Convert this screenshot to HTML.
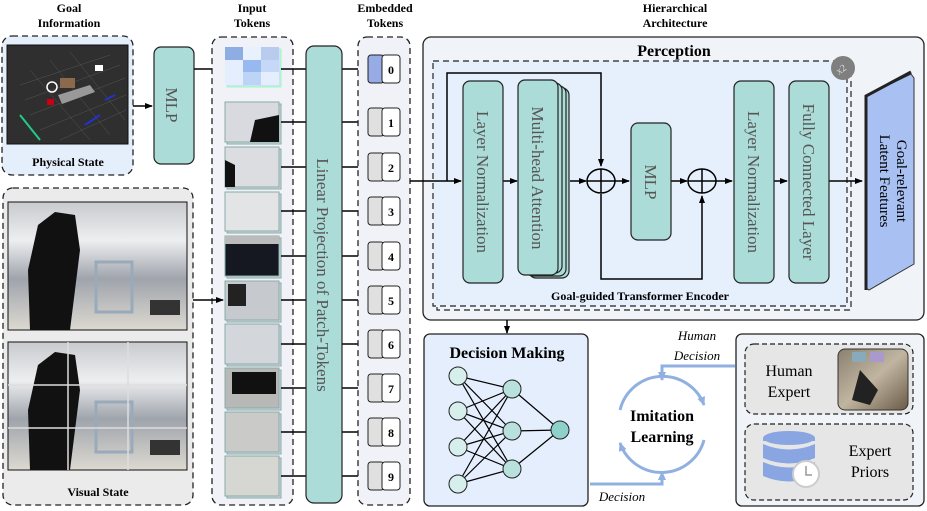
<!DOCTYPE html>
<html><head><meta charset="utf-8"><style>
html,body{margin:0;padding:0;background:#fff;}
svg{display:block;}
svg text{font-family:"Liberation Serif","DejaVu Serif",serif;}
</style></head><body>
<svg width="927" height="511" viewBox="0 0 927 511" xmlns="http://www.w3.org/2000/svg" font-family="Liberation Serif, serif">
<defs>
<marker id="ah" markerWidth="8" markerHeight="8" refX="7" refY="4" orient="auto" markerUnits="userSpaceOnUse"><path d="M0,1 L8,4 L0,7 Z" fill="#000"/></marker>
<marker id="bh" markerWidth="10" markerHeight="10" refX="8" refY="5" orient="auto" markerUnits="userSpaceOnUse"><path d="M0,1 L9,5 L0,9 Z" fill="#8fb0e0"/></marker>
<linearGradient id="room" x1="0" y1="0" x2="0" y2="1"><stop offset="0" stop-color="#c8cace"/><stop offset="0.3" stop-color="#eceef0"/><stop offset="0.6" stop-color="#9fa4ac"/><stop offset="1" stop-color="#dcd9d0"/></linearGradient>
<linearGradient id="ph" x1="0" y1="0" x2="1" y2="1"><stop offset="0" stop-color="#8a8070"/><stop offset="0.5" stop-color="#c0b5a0"/><stop offset="1" stop-color="#6a5a48"/></linearGradient>
</defs>

<g font-weight="bold" font-size="12" text-anchor="middle">
<text x="69" y="12">Goal</text><text x="69" y="27">Information</text>
<text x="252" y="12">Input</text><text x="252" y="27">Tokens</text>
<text x="385" y="12">Embedded</text><text x="385" y="27">Tokens</text>
<text x="675" y="12">Hierarchical</text><text x="675" y="27">Architecture</text>
</g>

<rect x="2" y="36" width="131" height="139" rx="10" fill="#e5eefb" stroke="#222" stroke-width="1.3" stroke-dasharray="6,4"/>
<rect x="7" y="45" width="121" height="99" fill="#2f2f2f" stroke="#111"/>
<g stroke="#555" stroke-width="0.5" fill="none">
<path d="M20,85 L110,55 M25,100 L120,65 M30,115 L125,78 M40,130 L126,95 M60,140 L126,110 M30,70 L90,140 M50,60 L110,135 M70,52 L125,120"/>
</g>
<path d="M20,115 L40,140" stroke="#2c8" stroke-width="2"/>
<path d="M85,125 L100,115 M105,100 L115,95" stroke="#23c" stroke-width="2"/>
<rect x="60" y="78" width="15" height="10" fill="#8a6a4a"/>
<rect x="95" y="65" width="8" height="6" fill="#fff"/>
<path d="M58,95 L90,85 L95,92 L62,104 Z" fill="#999"/>
<circle cx="52" cy="87" r="5" fill="none" stroke="#fff" stroke-width="1.5"/>
<rect x="47" y="99" width="7" height="6" fill="#c01"/>
<text x="68" y="166" font-weight="bold" font-size="12" text-anchor="middle">Physical State</text>

<rect x="3" y="188" width="190" height="317" rx="10" fill="#ebebeb" stroke="#222" stroke-width="1.3" stroke-dasharray="6,4"/>
<g>
<rect x="8" y="202" width="179" height="128" fill="url(#room)" stroke="#111"/>
<path d="M30,330 L28,270 L38,225 L55,212 L75,215 L80,250 L70,330 Z" fill="#111"/>
<rect x="96" y="262" width="36" height="50" fill="none" stroke="#9ab" stroke-width="3"/>
<rect x="150" y="300" width="30" height="15" fill="#333"/>
<rect x="8" y="342" width="179" height="128" fill="url(#room)" stroke="#111"/>
<path d="M30,470 L28,410 L38,365 L55,352 L75,355 L80,390 L70,470 Z" fill="#111"/>
<rect x="96" y="402" width="36" height="50" fill="none" stroke="#9ab" stroke-width="3"/>
<rect x="150" y="440" width="30" height="15" fill="#333"/>
<path d="M68,342 V470 M128,342 V470 M8,385 H187 M8,428 H187" stroke="#ddd" stroke-width="1.5"/>
</g>
<text x="98" y="496" font-weight="bold" font-size="12" text-anchor="middle">Visual State</text>

<line x1="133" y1="106" x2="152" y2="106" stroke="#000" stroke-width="1.6" marker-end="url(#ah)"/>
<rect x="154" y="47" width="40" height="117" rx="7" fill="#acdcd8" stroke="#222" stroke-width="1.2"/>
<text transform="translate(166,105) rotate(90)" font-size="17" fill="#555" text-anchor="middle">MLP</text>
<line x1="194" y1="69" x2="222" y2="69" stroke="#000" stroke-width="1.6" marker-end="url(#ah)"/>

<rect x="212" y="37" width="81" height="468" rx="9" fill="#f0f2f7" stroke="#222" stroke-width="1.3" stroke-dasharray="6,4"/>
<g>
<rect x="227" y="49" width="54" height="38" fill="#cfe0f4" stroke="#9fb"/>
<rect x="225" y="47" width="54" height="38" fill="#e4eefc"/>
<rect x="225" y="47" width="18" height="13" fill="#8eaee3"/><rect x="243" y="47" width="18" height="13" fill="#e8f1fd"/><rect x="261" y="47" width="18" height="13" fill="#b9ccee"/>
<rect x="243" y="60" width="18" height="12" fill="#98b8f0"/><rect x="261" y="60" width="18" height="12" fill="#c5d8f8"/>
<rect x="243" y="72" width="18" height="13" fill="#bcd4f6"/>
</g>
<line x1="281" y1="69" x2="306" y2="69" stroke="#000" stroke-width="1.4"/>
<g stroke="#8aa" stroke-width="1">
<rect x="227" y="104" width="54" height="40" fill="#cfd8d8"/><rect x="225" y="102" width="54" height="40" fill="#d8dadf"/><path d="M250,142 L255,120 L279,115 L279,142 Z" fill="#111" stroke="none"/>
<rect x="227" y="149" width="54" height="40" fill="#cfd8d8"/><rect x="225" y="147" width="54" height="40" fill="#dcdde0"/><path d="M225,160 L235,165 L235,187 L225,187 Z" fill="#111" stroke="none"/>
<rect x="227" y="194" width="54" height="39" fill="#cfd8d8"/><rect x="225" y="192" width="54" height="39" fill="#e2e4e6"/>
<rect x="227" y="238" width="54" height="40" fill="#cfd8d8"/><rect x="225" y="236" width="54" height="40" fill="#151820"/><rect x="225" y="236" width="54" height="8" fill="#bbb" stroke="none"/>
<rect x="227" y="283" width="54" height="39" fill="#cfd8d8"/><rect x="225" y="281" width="54" height="39" fill="#c6c9ce"/><rect x="228" y="284" width="18" height="22" fill="#222" stroke="none"/>
<rect x="227" y="326" width="54" height="40" fill="#cfd8d8"/><rect x="225" y="324" width="54" height="40" fill="#d3d7dc"/>
<rect x="227" y="370" width="54" height="40" fill="#cfd8d8"/><rect x="225" y="368" width="54" height="40" fill="#b8b8b6"/><rect x="232" y="372" width="44" height="22" fill="#111" stroke="none"/>
<rect x="227" y="414" width="54" height="40" fill="#cfd8d8"/><rect x="225" y="412" width="54" height="40" fill="#cacac8"/>
<rect x="227" y="458" width="54" height="40" fill="#cfd8d8"/><rect x="225" y="456" width="54" height="40" fill="#d6d6d2"/>
</g>
<line x1="193" y1="300" x2="223" y2="300" stroke="#000" stroke-width="1.6" marker-end="url(#ah)"/>
<g stroke="#000" stroke-width="1.4">
<path d="M281,122H306M281,167H306M281,211H306M281,256H306M281,300H306M281,344H306M281,388H306M281,432H306M281,476H306"/>
<path d="M342,69H368M342,122H368M342,167H368M342,211H368M342,256H368M342,300H368M342,344H368M342,388H368M342,432H368M342,476H368"/>
</g>

<rect x="306" y="46" width="36" height="457" rx="8" fill="#acdcd8" stroke="#222" stroke-width="1.2"/>
<text transform="translate(317,275) rotate(90)" font-size="17" fill="#555" text-anchor="middle">Linear Projection of Patch-Tokens</text>

<rect x="358" y="37" width="52" height="468" rx="9" fill="#f0f2f7" stroke="#222" stroke-width="1.3" stroke-dasharray="6,4"/>
<g stroke="#222" stroke-width="1" font-weight="bold" font-size="12" text-anchor="middle">
<rect x="368" y="55" width="16" height="28" rx="3" fill="#97abe4"/><rect x="382" y="55" width="18" height="28" rx="3" fill="#fff"/><text x="391" y="74" stroke="none">0</text>
<rect x="368" y="108" width="16" height="28" rx="3" fill="#e0e0e0"/><rect x="382" y="108" width="18" height="28" rx="3" fill="#fff"/><text x="391" y="127" stroke="none">1</text>
<rect x="368" y="153" width="16" height="28" rx="3" fill="#e0e0e0"/><rect x="382" y="153" width="18" height="28" rx="3" fill="#fff"/><text x="391" y="172" stroke="none">2</text>
<rect x="368" y="197" width="16" height="28" rx="3" fill="#e0e0e0"/><rect x="382" y="197" width="18" height="28" rx="3" fill="#fff"/><text x="391" y="216" stroke="none">3</text>
<rect x="368" y="242" width="16" height="28" rx="3" fill="#e0e0e0"/><rect x="382" y="242" width="18" height="28" rx="3" fill="#fff"/><text x="391" y="261" stroke="none">4</text>
<rect x="368" y="286" width="16" height="28" rx="3" fill="#e0e0e0"/><rect x="382" y="286" width="18" height="28" rx="3" fill="#fff"/><text x="391" y="305" stroke="none">5</text>
<rect x="368" y="330" width="16" height="28" rx="3" fill="#e0e0e0"/><rect x="382" y="330" width="18" height="28" rx="3" fill="#fff"/><text x="391" y="349" stroke="none">6</text>
<rect x="368" y="374" width="16" height="28" rx="3" fill="#e0e0e0"/><rect x="382" y="374" width="18" height="28" rx="3" fill="#fff"/><text x="391" y="393" stroke="none">7</text>
<rect x="368" y="418" width="16" height="28" rx="3" fill="#e0e0e0"/><rect x="382" y="418" width="18" height="28" rx="3" fill="#fff"/><text x="391" y="437" stroke="none">8</text>
<rect x="368" y="462" width="16" height="28" rx="3" fill="#e0e0e0"/><rect x="382" y="462" width="18" height="28" rx="3" fill="#fff"/><text x="391" y="481" stroke="none">9</text>
</g>

<rect x="423" y="37" width="501" height="283" rx="8" fill="#f0f3f8" stroke="#222" stroke-width="1.3"/>
<text x="674" y="56" font-weight="bold" font-size="16" text-anchor="middle">Perception</text>
<rect x="437" y="65" width="414" height="245" fill="none" stroke="#222" stroke-width="1.2" stroke-dasharray="6,4"/>
<rect x="433" y="61" width="414" height="245" fill="#e6effc" stroke="#222" stroke-width="1.2" stroke-dasharray="6,4"/>
<circle cx="843" cy="68" r="12" fill="#7f7f7f"/>
<text transform="translate(843,72) rotate(-35)" font-size="10" fill="#ddd" text-anchor="middle">x2</text>
<text x="640" y="300" font-weight="bold" font-size="12" text-anchor="middle">Goal-guided Transformer Encoder</text>

<g stroke="#000" stroke-width="1.5" fill="none">
<line x1="410" y1="181" x2="461" y2="181" marker-end="url(#ah)"/>
<path d="M447,181 V73 H601 V166" marker-end="url(#ah)"/>
<line x1="503" y1="181" x2="517" y2="181" marker-end="url(#ah)"/>
<line x1="570" y1="181" x2="586" y2="181" marker-end="url(#ah)"/>
<line x1="615" y1="181" x2="629" y2="181" marker-end="url(#ah)"/>
<line x1="670" y1="181" x2="687" y2="181" marker-end="url(#ah)"/>
<path d="M601,194 V279 H702 V196" marker-end="url(#ah)"/>
<line x1="716" y1="181" x2="732" y2="181" marker-end="url(#ah)"/>
<line x1="774" y1="181" x2="787" y2="181" marker-end="url(#ah)"/>
<line x1="828" y1="181" x2="862" y2="181" marker-end="url(#ah)"/>
<ellipse cx="601" cy="181" rx="14" ry="12" fill="#e6effc"/>
<path d="M587,181 H615 M601,169 V193"/>
<ellipse cx="702" cy="181" rx="14" ry="12" fill="#e6effc"/>
<path d="M688,181 H716 M702,169 V193"/>
</g>
<g stroke="#222" stroke-width="1.2" fill="#acdcd8">
<rect x="463" y="81" width="40" height="202" rx="7"/>
<rect x="529" y="88" width="40" height="190" rx="7"/>
<rect x="526" y="86" width="40" height="190" rx="7"/>
<rect x="522" y="83" width="40" height="190" rx="7"/>
<rect x="518" y="80" width="40" height="195" rx="7"/>
<rect x="631" y="123" width="40" height="117" rx="7"/>
<rect x="734" y="81" width="40" height="202" rx="7"/>
<rect x="789" y="81" width="40" height="202" rx="7"/>
</g>
<g font-size="17" fill="#555" text-anchor="middle">
<text transform="translate(477,182) rotate(90)">Layer Normalization</text>
<text transform="translate(532,178) rotate(90)">Multi-head Attention</text>
<text transform="translate(645,182) rotate(90)">MLP</text>
<text transform="translate(748,182) rotate(90)">Layer Normalization</text>
<text transform="translate(803,182) rotate(90)">Fully Connected Layer</text>
</g>
<path d="M866,96 L911,74 L914,78 L914,264 L869,290 L866,288 Z" fill="#a8c0f2" stroke="#333" stroke-width="1"/>
<path d="M866,290 L866,96 L911,72" fill="none" stroke="#222" stroke-width="3"/>
<g font-size="15" text-anchor="middle">
<text transform="translate(897,181) rotate(90)">Goal-relevant</text>
<text transform="translate(880,181) rotate(90)">Latent Features</text>
</g>

<line x1="507" y1="320" x2="507" y2="333" stroke="#000" stroke-width="1.5" marker-end="url(#ah)"/>
<rect x="424" y="334" width="164" height="172" rx="6" fill="#e4eefc" stroke="#222" stroke-width="1.3"/>
<text x="507" y="358" font-weight="bold" font-size="16" text-anchor="middle">Decision Making</text>
<g stroke="#000" stroke-width="1.2">
<path d="M458,376 L512,389 M458,376 L512,431 M458,376 L512,469 M458,411 L512,389 M458,411 L512,431 M458,411 L512,469 M458,447 L512,389 M458,447 L512,431 M458,447 L512,469 M458,484 L512,389 M458,484 L512,431 M458,484 L512,469 M512,389 L560,430 M512,431 L560,430 M512,469 L560,430"/>
</g>
<g stroke="#222" stroke-width="1" fill="#d6eeec">
<circle cx="458" cy="376" r="9"/><circle cx="458" cy="411" r="9"/><circle cx="458" cy="447" r="9"/><circle cx="458" cy="484" r="9"/>
<circle cx="512" cy="389" r="9" fill="#b8e0dc"/><circle cx="512" cy="431" r="9" fill="#b8e0dc"/><circle cx="512" cy="469" r="9" fill="#b8e0dc"/>
<circle cx="560" cy="430" r="9" fill="#8ed0ca"/>
</g>

<g stroke="#8fb0e0" stroke-width="3" fill="none">
<path d="M620,410 A44,44 0 0 1 704,405" marker-end="url(#bh)"/>
<path d="M704,440 A44,44 0 0 1 620,443" marker-end="url(#bh)"/>
<path d="M590,484 H662 V472" marker-end="url(#bh)"/>
<path d="M735,366 H662 V380" marker-end="url(#bh)"/>
</g>
<text x="662" y="421" font-weight="bold" font-size="16" text-anchor="middle">Imitation</text>
<text x="662" y="442" font-weight="bold" font-size="16" text-anchor="middle">Learning</text>
<text x="697" y="340" font-style="italic" font-size="13" text-anchor="middle">Human</text>
<text x="697" y="360" font-style="italic" font-size="13" text-anchor="middle">Decision</text>
<text x="622" y="501" font-style="italic" font-size="13" text-anchor="middle">Decision</text>

<rect x="736" y="334" width="188" height="172" rx="6" fill="#f0f3f8" stroke="#222" stroke-width="1.3"/>
<rect x="745" y="344" width="168" height="70" rx="9" fill="#e6e6e6" stroke="#222" stroke-width="1.2" stroke-dasharray="5,3"/>
<text x="789" y="376" font-size="16" text-anchor="middle">Human</text>
<text x="789" y="397" font-size="16" text-anchor="middle">Expert</text>
<rect x="838" y="349" width="70" height="61" rx="7" fill="url(#ph)" stroke="#333"/>
<rect x="852" y="352" width="14" height="10" fill="#8ab" /><rect x="870" y="352" width="14" height="10" fill="#a9c"/>
<path d="M852,400 L860,370 L878,390 L870,405 Z" fill="#222"/>
<rect x="745" y="424" width="168" height="76" rx="9" fill="#e6e6e6" stroke="#222" stroke-width="1.2" stroke-dasharray="5,3"/>
<g fill="#8aa6e2">
<ellipse cx="789" cy="438" rx="26" ry="7"/>
<path d="M763,444 Q789,455 815,444 V458 Q789,469 763,458 Z"/>
<path d="M763,462 Q789,473 815,462 V476 Q789,487 763,476 Z"/>
<rect x="763" y="438" width="52" height="3"/>
</g>
<circle cx="806" cy="474" r="13" fill="#fff" stroke="#ccc" stroke-width="2"/>
<path d="M806,466 V475 H812" stroke="#999" stroke-width="1.5" fill="none"/>
<text x="870" y="456" font-size="16" text-anchor="middle">Expert</text>
<text x="870" y="477" font-size="16" text-anchor="middle">Priors</text>
</svg>
</body></html>
